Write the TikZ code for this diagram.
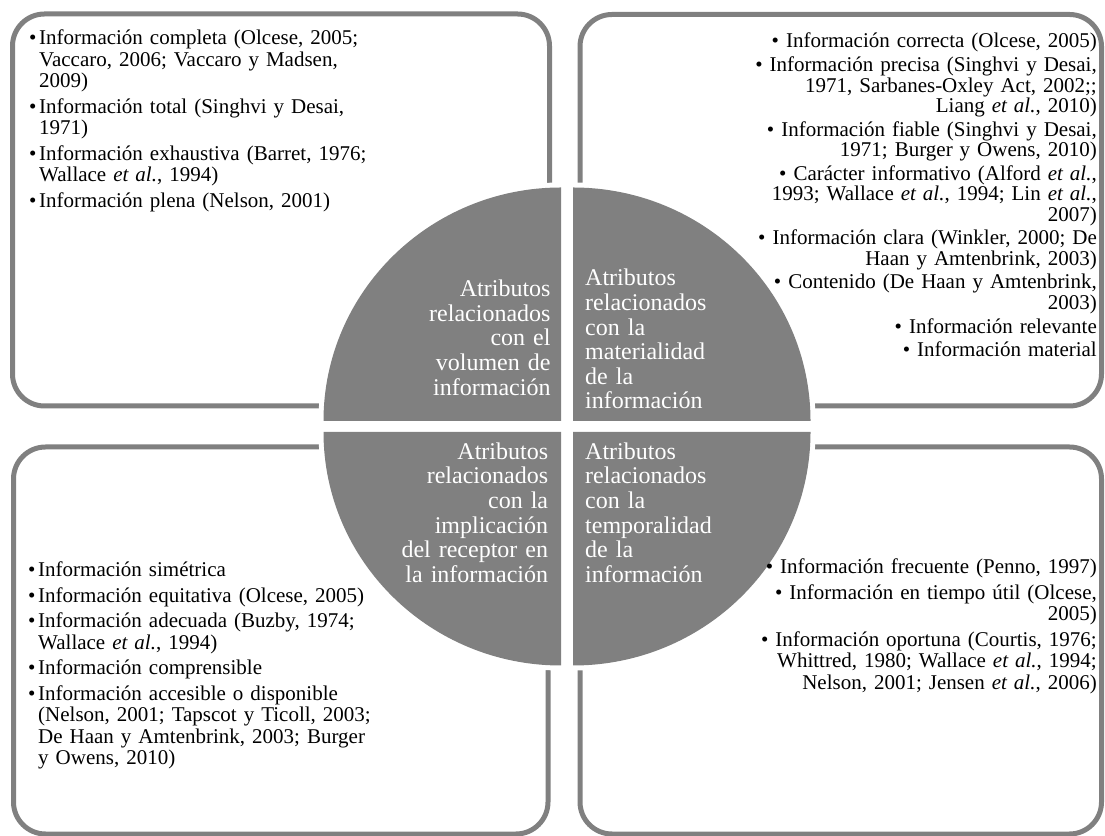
\documentclass[tikz,border=0pt]{standalone}
\usepackage{fontspec}
\setmainfont{Liberation Serif}
\definecolor{quadgray}{HTML}{808080}
\definecolor{framegray}{HTML}{808080}
\newcommand{\bul}{\makebox[10pt][l]{•}}
\newcommand{\hangsp}{\hspace*{10pt}}
\newcommand{\etalia}{\textit{et al.}}
\tikzset{
  frame/.style={draw=framegray, line width=5pt, rounded corners=32pt},
  halo/.style={draw=white, line width=10pt, line join=round},
  quad/.style={fill=quadgray, preaction={halo}},
  quadtext/.style={text=white, inner sep=0pt, text width=240pt,
    font=\fontsize{24}{24.6}\selectfont},
  listtext/.style={inner sep=0pt, text width=360pt,
    font=\fontsize{21}{21.5}\selectfont},
  densetext/.style={inner sep=0pt, text width=360pt,
    font=\fontsize{21}{20.5}\selectfont},
}
\begin{document}
\begin{tikzpicture}[x=1pt,y=1pt]
\useasboundingbox (0,0) rectangle (1105,835);

% outer frames
\draw[frame] (12.5,821) rectangle (549.5,429);
\draw[frame] (580,820.5) rectangle (1101.5,429);
\draw[frame] (13.5,388) rectangle (548,1);
\draw[frame] (580,388) rectangle (1101.5,1);

% four quarter discs
\path[quad] (561,414) -- (323.5,414)
  arc[start angle=180, end angle=90, x radius=237.5, y radius=233.5] -- cycle;
\path[quad] (573,414) -- (573,647.5)
  arc[start angle=90, end angle=0, x radius=237.5, y radius=233.5] -- cycle;
\path[quad] (561,403) -- (323.5,403)
  arc[start angle=180, end angle=270, x radius=237.5, y radius=233.5] -- cycle;
\path[quad] (573,403) -- (810.5,403)
  arc[start angle=0, end angle=-90, x radius=237.5, y radius=233.5] -- cycle;

% quarter labels
\node[quadtext, align=right, anchor=base east] (qvol) at (550.7,538.3)
  {Atributos\\relacionados\\con el\\volumen de\\información};
\node[quadtext, align=left, anchor=base west] (qmat) at (585,549)
  {Atributos\\relacionados\\con la\\materialidad\\de la\\información};
\node[quadtext, align=right, anchor=base east] (qimp) at (548.3,375.7)
  {Atributos\\relacionados\\con la\\implicación\\del receptor en\\la información};
\node[quadtext, align=left, anchor=base west] (qtem) at (585,375.7)
  {Atributos\\relacionados\\con la\\temporalidad\\de la\\información};

% attribute lists
\node[listtext, align=left, anchor=base west] (lvol) at (29,790) {%
\bul Información completa (Olcese, 2005;\\
\hangsp Vaccaro, 2006; Vaccaro y Madsen,\\
\hangsp 2009)\\[4pt]
\bul Información total (Singhvi y Desai,\\
\hangsp 1971)\\[4pt]
\bul Información exhaustiva (Barret, 1976;\\
\hangsp Wallace \etalia, 1994)\\[4pt]
\bul Información plena (Nelson, 2001)};

\node[densetext, align=right, anchor=base east] (lmat) at (1097,787) {%
• Información correcta (Olcese, 2005)\\[3.1pt]
• Información precisa (Singhvi y Desai,\\
1971, Sarbanes-Oxley Act, 2002;;\\
Liang \etalia, 2010)\\[3.1pt]
• Información fiable (Singhvi y Desai,\\
1971; Burger y Owens, 2010)\\[3.1pt]
• Carácter informativo (Alford \etalia,\\
1993; Wallace \etalia, 1994; Lin \etalia,\\
2007)\\[3.1pt]
• Información clara (Winkler, 2000; De\\
Haan y Amtenbrink, 2003)\\[3.1pt]
• Contenido (De Haan y Amtenbrink,\\
2003)\\[3.1pt]
• Información relevante\\[3.1pt]
• Información material};

\node[listtext, align=left, anchor=base west] (limp) at (28,258) {%
\bul Información simétrica\\[4pt]
\bul Información equitativa (Olcese, 2005)\\[4pt]
\bul Información adecuada (Buzby, 1974;\\
\hangsp Wallace \etalia, 1994)\\[4pt]
\bul Información comprensible\\[4pt]
\bul Información accesible o disponible\\
\hangsp (Nelson, 2001; Tapscot y Ticoll, 2003;\\
\hangsp De Haan y Amtenbrink, 2003; Burger\\
\hangsp y Owens, 2010)};

\node[listtext, align=right, anchor=base east] (ltem) at (1097,261) {%
• Información frecuente (Penno, 1997)\\[4pt]
• Información en tiempo útil (Olcese,\\
2005)\\[4pt]
• Información oportuna (Courtis, 1976;\\
Whittred, 1980; Wallace \etalia, 1994;\\
Nelson, 2001; Jensen \etalia, 2006)};
\end{tikzpicture}
\end{document}
